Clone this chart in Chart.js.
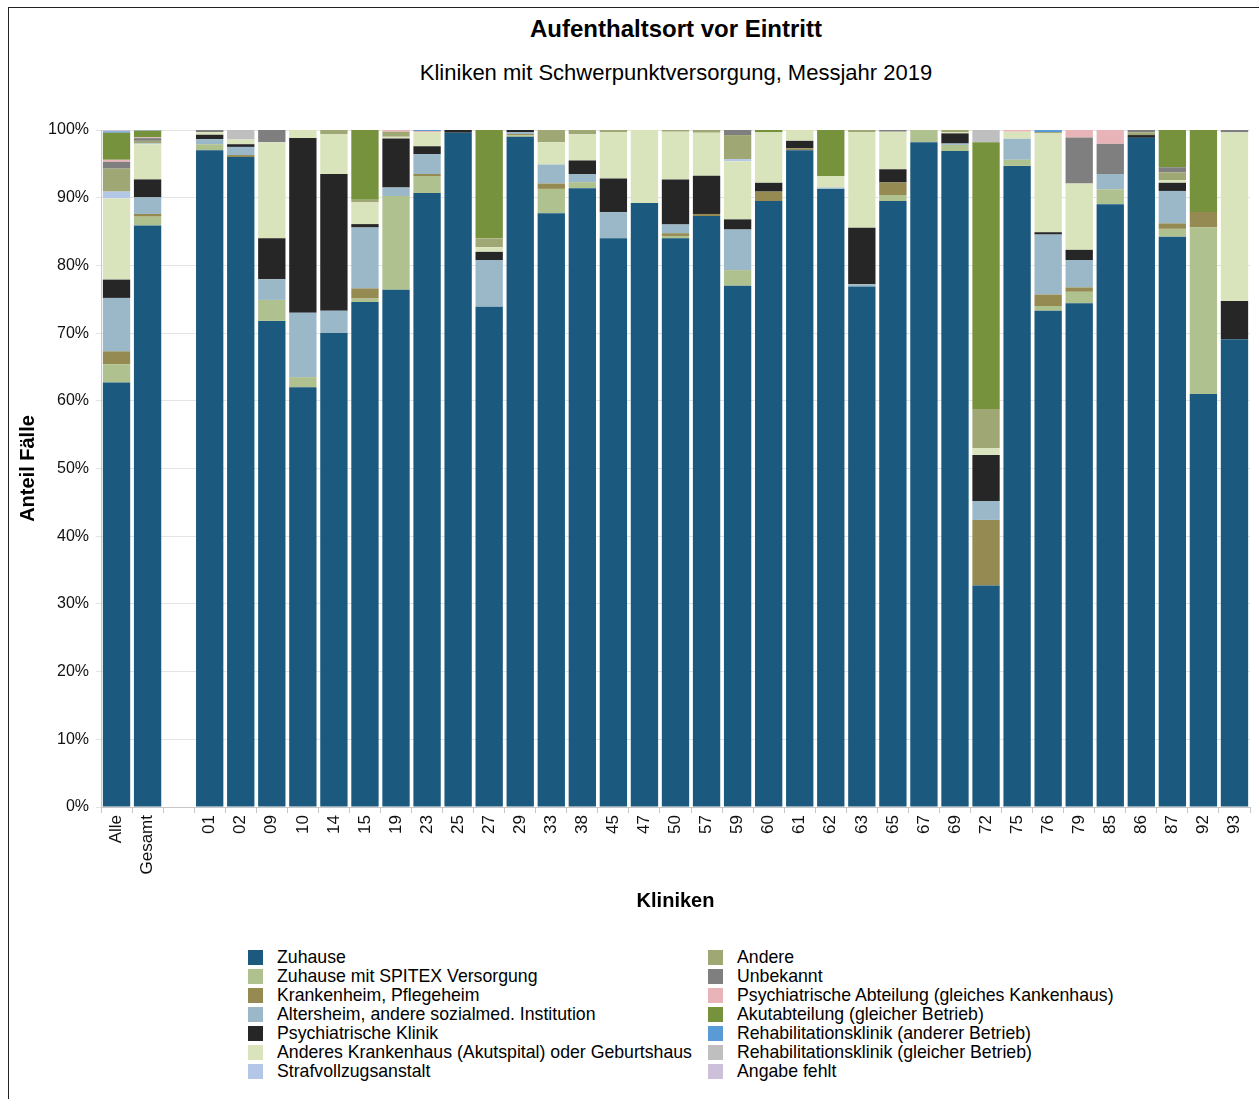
<!DOCTYPE html>
<html lang="de">
<head>
<meta charset="utf-8">
<title>Aufenthaltsort vor Eintritt</title>
<script src="https://cdn.jsdelivr.net/npm/chart.js@4.4.1/dist/chart.umd.min.js"></script>
<style>
  body { margin: 0; background: #fff; font-family: "Liberation Sans", Arial, sans-serif; }
  #wrap { position: relative; width: 1259px; height: 1099px; overflow: hidden; }
  #frame { position: absolute; left: 8px; top: 7px; width: 1400px; height: 1200px;
           border-left: 1px solid #222; border-top: 1px solid #222; }
  #title, #subtitle { position: absolute; left: 102px; width: 1148px; text-align: center; color: #000; }
  #title { top: 14px; font-size: 24px; line-height: 30px; font-weight: bold; }
  #subtitle { top: 59px; font-size: 22px; line-height: 28px; }
  #chart { position: absolute; left: 0; top: 0; }
  .item { position: absolute; height: 20px; display: flex; align-items: center;
          font-size: 17.7px; color: #000; white-space: nowrap; }
  .item span.box { width: 15px; height: 15px; margin-right: 14px; flex: none; }
</style>
</head>
<body>
<div id="wrap">
  <div id="frame"></div>
  <div id="title">Aufenthaltsort vor Eintritt</div>
  <div id="subtitle">Kliniken mit Schwerpunktversorgung, Messjahr 2019</div>
  <canvas id="chart" width="1259" height="925"></canvas>
  <div id="legend"></div>
</div>
<script>
// categories (third one is an empty spacer column)
const kliniken = ['Alle', 'Gesamt', '', '01', '02', '09', '10', '14', '15', '19', '23', '25', '27', '29',
  '33', '38', '45', '47', '50', '57', '59', '60', '61', '62', '63', '65', '67', '69', '72', '75', '76',
  '79', '85', '86', '87', '92', '93'];

// shares in percent, one value per category
const zuhause = [62.7, 85.9, null, 97.0, 96.0, 71.8, 62.0, 70.0, 74.6, 76.4, 90.7, 99.6, 73.9, 99.0,
  87.7, 91.4, 84.0, 89.2, 84.0, 87.3, 77.0, 89.5, 97.0, 91.3, 76.9, 89.5, 98.2, 96.9, 32.7, 94.7, 73.3,
  74.4, 89.05, 98.85, 84.25, 61.0, 69.1];
const spitex = [2.7, 1.3, null, 0.9, 0, 3.1, 1.5, 0, 0.5, 13.85, 2.5, 0, 0, 0.2,
  3.6, 0.9, 0, 0, 0.35, 0, 2.3, 0, 0, 0, 0, 0.9, 1.8, 0.9, 0, 0.9, 0.7,
  1.7, 2.2, 0, 1.15, 24.6, 0];
const krankenheim = [1.9, 0.4, null, 0, 0.3, 0, 0, 0, 1.5, 0, 0.3, 0, 0, 0.2,
  0.8, 0, 0, 0, 0.4, 0.3, 0, 1.4, 0.3, 0, 0, 1.85, 0, 0, 9.7, 0, 1.7,
  0.65, 0, 0, 0.8, 2.3, 0];
const altersheim = [7.9, 2.45, null, 0.75, 1.2, 3.05, 9.5, 3.3, 9.0, 1.25, 2.95, 0, 6.9, 0.3,
  2.8, 1.2, 3.85, 0, 1.3, 0, 6.0, 0, 0, 0.2, 0.3, 0, 0, 0.2, 2.8, 3.1, 8.85,
  4.05, 2.25, 0, 4.8, 0, 0];
const psychKlinik = [2.7, 2.65, null, 0.65, 0.4, 6.05, 25.8, 20.2, 0.5, 7.25, 1.15, 0.4, 1.2, 0.3,
  0, 2.0, 5.0, 0, 6.65, 5.65, 1.5, 1.3, 1.1, 0, 8.35, 1.95, 0, 1.5, 6.8, 0, 0.35,
  1.5, 0, 0.4, 1.2, 0, 5.65];
const anderesKH = [12.0, 5.2, null, 0.4, 0.7, 14.2, 1.2, 5.9, 3.2, 0.25, 2.1, 0, 0.7, 0,
  3.3, 3.9, 6.8, 10.8, 7.05, 6.35, 8.6, 7.45, 1.6, 1.7, 14.15, 5.55, 0, 0.2, 1.0, 1.05, 14.6,
  9.8, 0, 0, 0.4, 0, 24.9];
const strafvollzug = [1.0, 0.1, null, 0, 0, 0, 0, 0, 0, 0, 0, 0, 0, 0,
  0, 0, 0, 0, 0, 0, 0.3, 0, 0, 0, 0, 0, 0, 0, 0, 0, 0,
  0, 0, 0, 0, 0, 0];
const andere = [3.4, 0.4, null, 0, 0, 0, 0, 0.6, 0.4, 0.75, 0, 0, 1.3, 0,
  1.8, 0.6, 0.35, 0, 0.25, 0.4, 3.55, 0, 0, 0, 0.3, 0, 0, 0.3, 5.8, 0, 0.2,
  0, 0, 0.4, 1.15, 0, 0];
const unbekannt = [1.0, 0.4, null, 0.3, 0, 1.8, 0, 0, 0, 0, 0, 0, 0, 0,
  0, 0, 0, 0, 0, 0, 0.75, 0, 0, 0, 0, 0.25, 0, 0, 0, 0, 0,
  6.8, 4.45, 0.35, 0.75, 0, 0.35];
const psychAbteilung = [0.3, 0.1, null, 0, 0, 0, 0, 0, 0, 0.25, 0.15, 0, 0, 0,
  0, 0, 0, 0, 0, 0, 0, 0, 0, 0, 0, 0, 0, 0, 0, 0.25, 0,
  1.1, 2.05, 0, 0, 0, 0];
const akut = [4.0, 1.0, null, 0, 0, 0, 0, 0, 10.3, 0, 0, 0, 16.0, 0,
  0, 0, 0, 0, 0, 0, 0, 0.35, 0, 6.8, 0, 0, 0, 0, 39.4, 0, 0,
  0, 0, 0, 5.5, 12.1, 0];
const rehaAnderer = [0.2, 0.05, null, 0, 0, 0, 0, 0, 0, 0, 0.15, 0, 0, 0,
  0, 0, 0, 0, 0, 0, 0, 0, 0, 0, 0, 0, 0, 0, 0, 0, 0.3,
  0, 0, 0, 0, 0, 0];
const rehaGleicher = [0, 0, null, 0, 1.4, 0, 0, 0, 0, 0, 0, 0, 0, 0,
  0, 0, 0, 0, 0, 0, 0, 0, 0, 0, 0, 0, 0, 0, 1.8, 0, 0,
  0, 0, 0, 0, 0, 0];
const angabeFehlt = [0.2, 0.05, null, 0, 0, 0, 0, 0, 0, 0, 0, 0, 0, 0,
  0, 0, 0, 0, 0, 0, 0, 0, 0, 0, 0, 0, 0, 0, 0, 0, 0,
  0, 0, 0, 0, 0, 0];

const yTicks = [0, 10, 20, 30, 40, 50, 60, 70, 80, 90, 100];

// series in stacking order, bottom to top
const series = [
  ['Zuhause', zuhause, '#1b5a7e'],
  ['Zuhause mit SPITEX Versorgung', spitex, '#afc18e'],
  ['Krankenheim, Pflegeheim', krankenheim, '#958a52'],
  ['Altersheim, andere sozialmed. Institution', altersheim, '#9bb8c9'],
  ['Psychiatrische Klinik', psychKlinik, '#262626'],
  ['Anderes Krankenhaus (Akutspital) oder Geburtshaus', anderesKH, '#d9e4bd'],
  ['Strafvollzugsanstalt', strafvollzug, '#b4c7e7'],
  ['Andere', andere, '#9fa874'],
  ['Unbekannt', unbekannt, '#7f7f7f'],
  ['Psychiatrische Abteilung (gleiches Kankenhaus)', psychAbteilung, '#e8b4b8'],
  ['Akutabteilung (gleicher Betrieb)', akut, '#76923c'],
  ['Rehabilitationsklinik (anderer Betrieb)', rehaAnderer, '#5b9bd5'],
  ['Rehabilitationsklinik (gleicher Betrieb)', rehaGleicher, '#bfbfbf'],
  ['Angabe fehlt', angabeFehlt, '#ccc0da']
];

const data = {
  labels: kliniken,
  datasets: series.map(([label, values, color]) => ({
    label,
    data: values,
    backgroundColor: color,
    borderWidth: 0,
    barPercentage: 0.88,
    categoryPercentage: 1.0
  }))
};

const config = {
  type: 'bar',
  data,
  options: {
    responsive: false,
    animation: false,
    layout: { padding: { top: 130, right: 9, left: 0, bottom: 0 } },
    plugins: {
      legend: { display: false },
      title: { display: false },
      tooltip: { enabled: false }
    },
    scales: {
      x: {
        stacked: true,
        afterFit: (scale) => { scale.height = 118; },
        grid: { drawOnChartArea: false, color: '#c8c8c8', tickLength: 6 },
        border: { color: '#c8c8c8' },
        ticks: {
          autoSkip: false, minRotation: 90, maxRotation: 90, padding: 2,
          color: '#111', font: { family: 'Liberation Sans', size: 17 }
        },
        title: {
          display: true, text: 'Kliniken', color: '#000',
          font: { family: 'Liberation Sans', size: 20, weight: 'bold' },
          padding: { top: 4, bottom: 12 }
        }
      },
      y: {
        stacked: true,
        min: 0,
        max: 100,
        afterFit: (scale) => { scale.width = 101; },
        afterBuildTicks: (scale) => { scale.ticks = yTicks.map(v => ({ value: v })); },
        grid: { color: '#e4e4e4', tickLength: 5 },
        border: { color: '#c8c8c8' },
        ticks: {
          padding: 7, color: '#111',
          font: { family: 'Liberation Sans', size: 16 },
          callback: (v) => v + '%'
        },
        title: {
          display: true, text: 'Anteil Fälle', color: '#000',
          font: { family: 'Liberation Sans', size: 20, weight: 'bold' },
          padding: { top: 16, bottom: 0 }
        }
      }
    }
  }
};

const myChart = new Chart(document.getElementById('chart'), config);

// two-column legend below the chart, first seven entries on the left
const legend = document.getElementById('legend');
series.forEach(([label, , color], i) => {
  const col = i < 7 ? 0 : 1;
  const row = i % 7;
  const item = document.createElement('div');
  item.className = 'item';
  item.style.left = (col ? 708 : 248) + 'px';
  item.style.top = (947.5 + row * 19) + 'px';
  item.innerHTML = '<span class="box" style="background:' + color + '"></span>' + label;
  legend.appendChild(item);
});
</script>
</body>
</html>
